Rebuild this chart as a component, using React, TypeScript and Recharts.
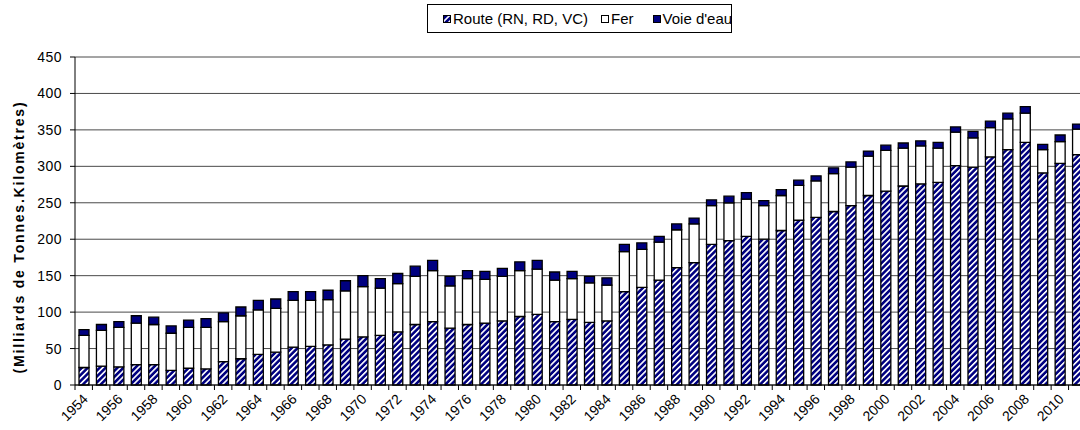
import { BarChart, Bar, XAxis, YAxis, CartesianGrid, Legend } from "recharts";

const YEARS = [
  1954, 1955, 1956, 1957, 1958, 1959, 1960, 1961, 1962, 1963, 1964, 1965, 1966, 1967,
  1968, 1969, 1970, 1971, 1972, 1973, 1974, 1975, 1976, 1977, 1978, 1979, 1980, 1981,
  1982, 1983, 1984, 1985, 1986, 1987, 1988, 1989, 1990, 1991, 1992, 1993, 1994, 1995, 1996,
  1997, 1998, 1999, 2000, 2001, 2002, 2003, 2004, 2005, 2006, 2007, 2008, 2009, 2010, 2011,
];

const ROUTE = [
  24, 26, 25, 28, 28, 20, 23, 22, 32, 36, 42, 45, 52, 53,
  55, 63, 66, 68, 73, 83, 87, 78, 83, 85, 88, 94, 97, 87,
  90, 86, 88, 128, 134, 144, 161, 168, 193, 198, 204, 200, 212, 226, 230,
  238, 246, 260, 266, 273, 276, 278, 301, 299, 313, 323, 333, 291, 304, 316,
];

const FER = [
  44, 49, 54, 57, 55, 51, 56, 57, 55, 59, 61, 60, 64, 63,
  62, 66, 69, 65, 66, 66, 70, 58, 63, 60, 61, 63, 62, 57,
  56, 54, 49, 55, 52, 52, 52, 53, 53, 52, 51, 46, 48, 48, 50,
  52, 53, 54, 56, 52, 52, 47, 46, 40, 40, 42, 40, 32, 30, 35,
];

const EAU = [
  8, 8, 8, 10, 10, 10, 10, 12, 12, 12, 13, 13, 12, 12,
  13, 14, 15, 13, 14, 14, 14, 13, 11, 11, 11, 12, 12, 11,
  10, 9, 10, 10, 9, 8, 8, 8, 8, 9, 9, 7, 8, 7, 7,
  8, 7, 7, 7, 7, 7, 8, 7, 9, 9, 8, 9, 7, 9, 7,
];

const Y_TICKS = [0, 50, 100, 150, 200, 250, 300, 350, 400, 450];
const BOUNDARY_TICKS = YEARS.map((_, i) => i).concat([YEARS.length]);

const data = YEARS.map((year, i) => ({
  year: String(year),
  route: ROUTE[i],
  fer: FER[i],
  eau: EAU[i],
  idx: i,
}));

const FONT = "'Liberation Sans', Arial, sans-serif";
const NAVY = "#000080";

const YearTick = ({ x, y, payload }: any) => {
  const ax = x + 5;
  const ay = y + 7;
  return (
    <text
      x={ax}
      y={ay}
      textAnchor="end"
      transform={`rotate(-45 ${ax} ${ay})`}
      fontSize={14}
      fontFamily={FONT}
      fill="#000"
    >
      {payload.value}
    </text>
  );
};

const YLabel = ({ viewBox }: any) => {
  const cx = viewBox.x + 19;
  const cy = viewBox.y + viewBox.height / 2 + 16;
  return (
    <text
      x={cx}
      y={cy}
      textAnchor="middle"
      dominantBaseline="central"
      transform={`rotate(-90 ${cx} ${cy})`}
      fontSize={14}
      fontWeight="bold"
      letterSpacing={1.8}
      fontFamily={FONT}
      fill="#000"
    >
      (Milliards de Tonnes.Kilomètres)
    </text>
  );
};

const LegendBox = () => {
  const item = (fill: string, label: string, gap: number) => (
    <span style={{ display: "inline-flex", alignItems: "center", marginRight: gap }}>
      <svg width={8} height={8} style={{ marginRight: 2 }}>
        <rect x={0.5} y={0.5} width={7} height={7} fill={fill} stroke="#000" strokeWidth={1} />
      </svg>
      {label}
    </span>
  );
  return (
    <div
      style={{
        boxSizing: "border-box",
        height: 29,
        width: 305,
        border: "1px solid #000",
        background: "#fff",
        fontFamily: FONT,
        fontSize: 15,
        color: "#000",
        display: "flex",
        alignItems: "center",
        paddingLeft: 15,
        whiteSpace: "nowrap",
      }}
    >
      {item("url(#hatch)", "Route (RN, RD, VC)", 13)}
      {item("#fff", "Fer", 19)}
      {item(NAVY, "Voie d'eau", 0)}
    </div>
  );
};

export default function App() {
  return (
    <div
      style={{
        position: "fixed",
        left: 0,
        top: 0,
        width: 1080,
        height: 430,
        overflow: "hidden",
        background: "#fff",
      }}
    >
      <style>{"html, body { margin: 0; padding: 0; overflow: hidden; }"}</style>
      <BarChart
        width={1080}
        height={430}
        data={data}
        barSize={10}
        margin={{ top: 28, right: -6, left: 0, bottom: 0 }}
      >
        <defs>
          <pattern
            id="hatch"
            patternUnits="userSpaceOnUse"
            width={4.2}
            height={4.2}
            patternTransform="rotate(45)"
          >
            <rect x={0} y={0} width={4.2} height={4.2} fill={NAVY} />
            <rect x={0} y={0} width={1.6} height={4.2} fill="#fff" />
          </pattern>
        </defs>
        <Legend
          verticalAlign="top"
          align="left"
          content={<LegendBox />}
          wrapperStyle={{ top: 4, left: 427, width: 305, height: 29 }}
        />
        <CartesianGrid vertical={false} stroke="#4a4a4a" strokeWidth={1} />
        <XAxis
          xAxisId="bounds"
          dataKey="idx"
          type="number"
          domain={[0, YEARS.length]}
          ticks={BOUNDARY_TICKS}
          interval={0}
          height={6}
          tickSize={5}
          tickFormatter={() => ""}
          axisLine={{ stroke: "#000", strokeWidth: 1 }}
          tickLine={{ stroke: "#000" }}
        />
        <XAxis
          xAxisId="cat"
          dataKey="year"
          interval={1}
          height={39}
          tickSize={0}
          tickMargin={2}
          axisLine={false}
          tickLine={false}
          tick={<YearTick />}
        />
        <YAxis
          domain={[0, 450]}
          ticks={Y_TICKS}
          width={75}
          tickSize={5}
          tickMargin={8}
          axisLine={{ stroke: "#000", strokeWidth: 1 }}
          tickLine={{ stroke: "#000" }}
          tick={{ fontSize: 14, fill: "#000", fontFamily: FONT, letterSpacing: 0.5 }}
          label={<YLabel />}
        />
        <Bar
          xAxisId="cat"
          dataKey="route"
          name="Route (RN, RD, VC)"
          stackId="a"
          fill="url(#hatch)"
          stroke="#000"
          strokeWidth={1.3}
          isAnimationActive={false}
        />
        <Bar
          xAxisId="cat"
          dataKey="fer"
          name="Fer"
          stackId="a"
          fill="#fff"
          stroke="#000"
          strokeWidth={1.3}
          isAnimationActive={false}
        />
        <Bar
          xAxisId="cat"
          dataKey="eau"
          name="Voie d'eau"
          stackId="a"
          fill={NAVY}
          stroke="#000"
          strokeWidth={1.3}
          isAnimationActive={false}
        />
      </BarChart>
    </div>
  );
}
